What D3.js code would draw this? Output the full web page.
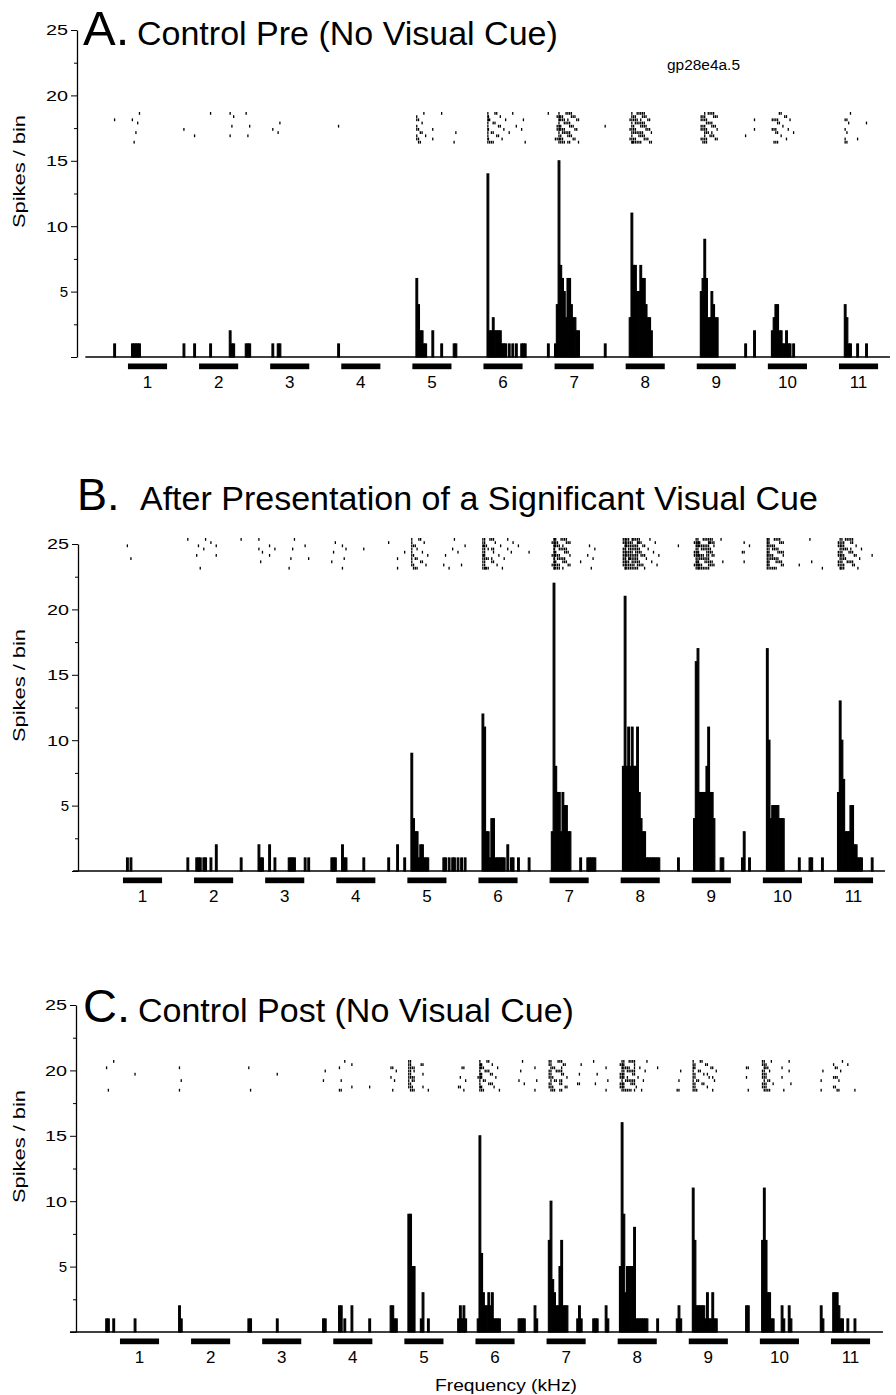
<!DOCTYPE html>
<html><head><meta charset="utf-8">
<script src="https://cdn.jsdelivr.net/npm/d3@7"></script>
<style>
html,body{margin:0;padding:0;background:#fff;}
svg{display:block;font-family:"Liberation Sans",Arial,Helvetica,sans-serif;}
</style></head><body>
<svg id="chart" width="896" height="1395"></svg>
<script>
// ---------------- DATA ----------------
// Time axis is in 5-ms bins; each frequency step lasts 40 bins, tone on from bin 24 to 46.
const freqLabels = ["1","2","3","4","5","6","7","8","9","10","11"];
const yTickValues = [0, 5, 10, 15, 20, 25];
const yMinorValues = [2.5, 7.5, 12.5, 17.5, 22.5];
const binsPerTone = 40;
const toneOnBin = 24;
const toneOffBin = 46;
const nTrials = 10;
const panelLetters = ["A.", "B.", "C."];
const panelTitles = ["Control Pre (No Visual Cue)",
                     "After Presentation of a Significant Visual Cue",
                     "Control Post (No Visual Cue)"];
const cellId = "gp28e4a.5";
const yLabel = "Spikes / bin";
const xLabel = "Frequency (kHz)";

// [bin, spikes/bin] (bins not listed are 0)
const countsA = [
 [16,1],[26,1],[27,1],[28,1],[29,1],[30,1],[55,1],[61,1],[70,1],
 [81,2],[82,1],[83,1],[90,1],[91,1],[92,1],[105,1],[108,1],[109,1],[142,1],
 [186,6],[187,4],[188,2],[189,2],[190,1],[191,1],[195,2],[200,1],[207,1],[208,1],
 [226,14],[227,2],[228,2],[229,3],[230,2],[231,2],[232,2],[233,2],[234,1],[235,1],[236,1],
 [238,1],[240,1],[242,1],[245,1],[246,1],[247,1],
 [260,1],[264,1],[265,4],[266,15],[267,7],[268,6],[269,5],[270,3],[271,6],[272,6],[273,4],
 [274,3],[275,3],[276,2],[277,2],[292,1],
 [306,3],[307,11],[308,7],[309,7],[310,5],[311,5],[312,7],[313,6],[314,6],[315,4],[316,3],[317,3],[318,2],
 [346,5],[347,6],[348,9],[349,6],[350,3],[351,3],[352,5],[353,4],[354,3],[355,3],[371,1],[376,2],
 [386,2],[387,3],[388,4],[389,4],[390,2],[391,2],[392,1],[393,1],[394,2],[395,1],[396,1],[398,1],
 [427,4],[428,3],[429,1],[430,1],[434,1],[439,1]
];
const countsB = [
 [26,1],[28,1],[60,1],[65,1],[66,1],[67,1],[69,1],[70,1],[73,1],[76,2],[90,1],
 [100,2],[101,1],[102,1],[106,2],[109,1],[117,1],[118,1],[119,1],[120,1],[126,1],[128,1],
 [141,1],[142,1],[143,1],[147,2],[148,1],[149,1],[159,1],[173,1],[178,2],[182,1],
 [186,9],[187,4],[188,3],[189,3],[190,1],[191,2],[192,2],[193,1],[194,1],[195,1],
 [204,1],[205,1],[207,1],[209,1],[210,1],[212,1],[214,1],[216,1],
 [226,12],[227,11],[228,3],[229,3],[230,1],[231,4],[232,4],[233,1],[234,1],[235,1],[236,1],
 [237,1],[238,1],[240,2],[242,1],[243,1],[246,1],[252,1],
 [265,3],[266,22],[267,8],[268,6],[269,6],[270,3],[271,6],[272,5],[273,5],[274,3],[275,3],
 [281,1],[285,1],[286,1],[287,1],[288,1],[289,1],
 [305,8],[306,21],[307,8],[308,11],[309,8],[310,11],[311,8],[312,8],[313,11],[314,6],[315,4],
 [316,3],[317,3],[318,1],[319,1],[320,1],[321,1],[322,1],[323,1],[324,1],[325,1],[336,1],
 [345,4],[346,16],[347,17],[348,6],[349,6],[350,6],[351,6],[352,8],[353,11],[354,6],[355,6],[356,4],
 [360,1],[361,1],[372,1],[373,3],[376,1],
 [386,17],[387,10],[388,4],[389,5],[390,5],[391,5],[392,5],[393,4],[394,4],[395,4],
 [404,1],[410,1],[411,1],[417,1],
 [426,6],[427,13],[428,10],[429,7],[430,3],[431,3],[432,3],[433,5],[434,5],[435,2],[436,2],
 [437,1],[438,1],[439,1],[445,1]
];
const countsC = [
 [16,1],[17,1],[20,1],[32,1],[57,2],[58,1],[96,1],[97,1],[112,1],[138,1],[139,1],
 [147,2],[148,2],[150,1],[154,2],[164,1],[176,2],[177,2],[178,1],[179,1],
 [186,9],[187,9],[188,5],[189,5],[193,1],[194,3],[197,1],
 [214,1],[215,2],[216,1],[217,2],[218,1],
 [225,1],[226,15],[227,6],[228,3],[229,2],[230,2],[231,3],[232,2],[233,3],[234,1],[235,1],
 [236,1],[237,1],[248,1],[249,1],[250,1],[251,1],[257,2],[258,1],
 [265,7],[266,10],[267,4],[268,3],[269,2],[270,2],[271,5],[272,7],[273,2],[274,2],[275,2],
 [281,1],[282,2],[283,1],[290,1],[291,1],[292,1],[297,2],[298,1],
 [305,5],[306,16],[307,9],[308,3],[309,5],[310,5],[311,5],[312,5],[313,8],[314,1],[315,1],
 [316,1],[317,1],[318,1],[319,1],[320,1],[326,1],
 [337,1],[338,2],[339,1],[346,11],[347,7],[348,2],[349,2],[350,2],[351,2],[352,2],[353,1],
 [354,3],[355,1],[356,1],[357,3],[358,1],[359,1],[376,2],[377,2],
 [385,7],[386,11],[387,7],[388,3],[389,3],[390,1],[391,1],[396,2],[397,1],[400,2],[401,1],
 [418,2],[419,1],
 [425,3],[426,3],[427,3],[428,2],[429,1],[430,1],[433,1],[437,1]
];

// ---------------- LAYOUT ----------------
const pxPerBin = 1.7775;
const pxPerUnit = 13.08;
const layout = [
  {counts: countsA, baseY: 357, axisX: 77, x0px: 85.3, xDomain: [0, 452.7], rasterTop: 112,
   titleY: 45, letterX: 83, letterSize: 49, titleX: 137},
  {counts: countsB, baseY: 871, axisX: 78, x0px: 80.3, xDomain: [-4.1, 452.7], rasterTop: 538,
   titleY: 510, letterX: 77, letterSize: 45, titleX: 140},
  {counts: countsC, baseY: 1332, axisX: 76, x0px: 77.3, xDomain: [-4.1, 453.3], rasterTop: 1060,
   titleY: 1022, letterX: 83, letterSize: 47, titleX: 138}
];

const svg = d3.select("#chart");
svg.append("rect").attr("width",896).attr("height",1395).attr("fill","#fff");

layout.forEach((L, i) => {
  const g = svg.append("g");
  const x = d3.scaleLinear().domain(L.xDomain)
    .range([L.x0px + L.xDomain[0]*pxPerBin, L.x0px + L.xDomain[1]*pxPerBin]);
  const y = d3.scaleLinear().domain([0, 25]).range([L.baseY, L.baseY - 25*pxPerUnit]);
  const bw = x(1) - x(0);

  // histogram bars
  g.append("g").selectAll("rect").data(L.counts).join("rect")
    .attr("x", d => x(d[0])).attr("width", bw)
    .attr("y", d => y(d[1])).attr("height", d => y(0) - y(d[1]))
    .attr("fill", "#000").attr("stroke", "#000").attr("stroke-width", 1.1);

  // baseline
  g.append("line")
    .attr("x1", x(L.xDomain[0])).attr("x2", x(L.xDomain[1]))
    .attr("y1", y(0)).attr("y2", y(0))
    .attr("stroke", "#000").attr("stroke-width", 1.6);

  // raster: every spike of the histogram shown as a tick in one of the trials
  const spikes = [];
  L.counts.forEach(([b, c]) => {
    for (let k = 0; k < c; k++) spikes.push({b, row: (b*7 + k*3) % nTrials, pass: Math.floor(k / nTrials)});
  });
  const rowY = d3.scaleLinear().domain([0, nTrials]).range([L.rasterTop, L.rasterTop + 32]);
  g.append("g").selectAll("rect").data(spikes).join("rect")
    .attr("x", d => x(d.b) + 0.2 + d.pass*0.6).attr("width", 1.3)
    .attr("y", d => rowY(d.row)).attr("height", 2.8)
    .attr("fill", "#000");

  // y axis (major + minor ticks)
  const axMajor = d3.axisLeft(y).tickValues(yTickValues).tickSize(6).tickSizeOuter(0).tickPadding(3)
    .tickFormat(d => d === 0 ? "" : String(d));
  const ga = g.append("g").attr("transform", `translate(${L.axisX},0)`).call(axMajor);
  ga.attr("font-family", null).attr("font-size", null);
  ga.select(".domain").attr("stroke-width", 1.3);
  ga.selectAll(".tick line").attr("stroke-width", 1);
  ga.selectAll(".tick text").attr("font-size", 15).attr("fill", "#000")
    .each(function(d){ const s = String(d); if (s.length > 1) d3.select(this).attr("textLength", 22).attr("lengthAdjust","spacingAndGlyphs"); });
  const axMinor = d3.axisLeft(y).tickValues(yMinorValues).tickSize(3).tickSizeOuter(0).tickFormat("");
  const gm = g.append("g").attr("transform", `translate(${L.axisX},0)`).call(axMinor);
  gm.select(".domain").remove();
  gm.selectAll(".tick line").attr("stroke-width", 1);

  // stimulus bars and frequency labels
  const tones = freqLabels.map((lab, k) => ({lab, on: k*binsPerTone + toneOnBin, off: k*binsPerTone + toneOffBin}));
  g.append("g").selectAll("rect").data(tones).join("rect")
    .attr("x", d => x(d.on)).attr("width", d => x(d.off) - x(d.on))
    .attr("y", y(0) + 6.5).attr("height", 5.7).attr("fill", "#000");
  g.append("g").selectAll("text").data(tones).join("text")
    .attr("x", d => (x(d.on) + x(d.off)) / 2).attr("y", y(0) + 30.5)
    .attr("text-anchor", "middle").attr("font-size", 17).attr("fill", "#000")
    .text(d => d.lab);

  // y label
  const ly = y(0) - 185.5;
  g.append("text").attr("transform", `translate(25,${ly}) rotate(-90)`)
    .attr("text-anchor", "middle").attr("font-size", 17).attr("fill", "#000")
    .attr("textLength", 113).attr("lengthAdjust", "spacingAndGlyphs")
    .text(yLabel);

  // titles
  g.append("text").attr("x", L.letterX).attr("y", L.titleY)
    .attr("font-size", L.letterSize).attr("fill", "#000").text(panelLetters[i]);
  g.append("text").attr("x", L.titleX).attr("y", L.titleY)
    .attr("font-size", 34).attr("fill", "#000").text(panelTitles[i]);
});

// cell id and x label
svg.append("text").attr("x", 667).attr("y", 70).attr("font-size", 14).attr("fill", "#000")
  .attr("textLength", 73).attr("lengthAdjust", "spacingAndGlyphs").text(cellId);
svg.append("text").attr("x", 435).attr("y", 1391).attr("font-size", 17).attr("fill", "#000")
  .attr("textLength", 142).attr("lengthAdjust", "spacingAndGlyphs").text(xLabel);
</script>
</body></html>
